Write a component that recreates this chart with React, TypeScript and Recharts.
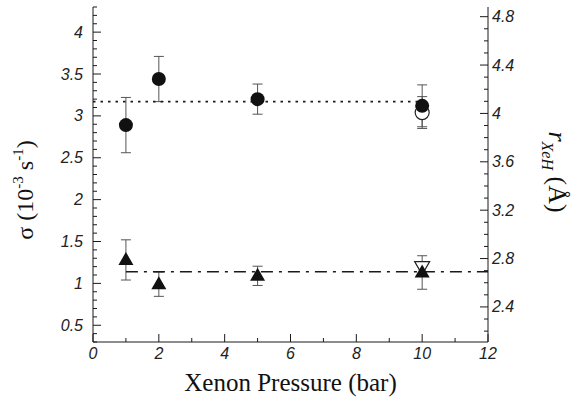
import React from 'react';
import { ComposedChart, Scatter, XAxis, YAxis, ErrorBar } from 'recharts';

// measured points (filled symbols)
const pressure = [1, 2, 5, 10];
const sigmaCircle = [2.89, 3.44, 3.2, 3.12];
const sigmaCircleErr = [0.33, 0.27, 0.18, 0.25];
const sigmaTriangle = [1.28, 0.99, 1.09, 1.13];
const sigmaTriangleErr = [0.24, 0.145, 0.115, 0.2];

// open symbols at 10 bar
const openPressure = [10];
const openCircle = [3.04];
const openCircleErr = [0.19];
const openTriangle = [1.2];

// fitted constant levels
const circleFitX = [0, 10];
const circleFit = 3.17;
const triangleFitX = [1, 12];
const triangleFit = 1.14;

// axis ticks
const xTickLabels = ['0', '2', '4', '6', '8', '10', '12'];
const sigmaTickLabels = ['0.5', '1', '1.5', '2', '2.5', '3', '3.5', '4'];
const rTickLabels = ['2.4', '2.8', '3.2', '3.6', '4', '4.4', '4.8'];

const steps = (from: number, to: number, step: number) => {
  const out: number[] = [];
  for (let v = from; v <= to + 1e-9; v += step) out.push(Math.round(v * 10) / 10);
  return out;
};

const xTicks = steps(0, 12, 1);
const sigmaTicks = steps(0.3, 4.3, 0.1);
const rTicks = steps(2.2, 4.8, 0.1);

const circleData = pressure.map((x, i) => ({ x, y: sigmaCircle[i], err: sigmaCircleErr[i] }));
const triangleData = pressure.map((x, i) => ({ x, y: sigmaTriangle[i], err: sigmaTriangleErr[i] }));
const openCircleData = openPressure.map((x, i) => ({ x, y: openCircle[i], err: openCircleErr[i] }));
const openTriangleData = openPressure.map((x, i) => ({ x, y: openTriangle[i] }));
const circleFitData = circleFitX.map((x) => ({ x, y: circleFit }));
const triangleFitData = triangleFitX.map((x) => ({ x, y: triangleFit }));

const tickStyle = { fontFamily: '"Liberation Sans", Arial, Helvetica, sans-serif', fontStyle: 'italic', fontSize: '16px' };
const serif = { fontFamily: '"Liberation Serif", "Times New Roman", Times, "DejaVu Serif", serif' };
const INK = '#1a1a1a';

const AxisTick = ({ x, y, payload, side, labels }: any) => {
  const v = payload.value;
  const label = String(v);
  const major = labels.includes(label);
  const len = major ? 8 : 4;
  if (side === 'left') {
    return (
      <g>
        <line x1={x} y1={y} x2={x + len} y2={y} stroke={INK} strokeWidth={1} />
        {major && <text x={x - 10} y={y + 5.5} textAnchor="end" fill="#222" style={tickStyle}>{label}</text>}
      </g>
    );
  }
  if (side === 'right') {
    return (
      <g>
        <line x1={x} y1={y} x2={x - len} y2={y} stroke={INK} strokeWidth={1} />
        {major && <text x={x + 4} y={y + 5.5} textAnchor="start" fill="#222" style={tickStyle}>{label}</text>}
      </g>
    );
  }
  if (side === 'bottom') {
    return (
      <g>
        <line x1={x} y1={y} x2={x} y2={y - len} stroke={INK} strokeWidth={1} />
        {major && <text x={x} y={y + 17} textAnchor="middle" fill="#222" style={tickStyle}>{label}</text>}
      </g>
    );
  }
  return <line x1={x} y1={y} x2={x} y2={y + len} stroke={INK} strokeWidth={1} />;
};

const FilledCircle = ({ cx, cy }: any) => <circle cx={cx} cy={cy} r={7} fill="#111" />;
const OpenCircle = ({ cx, cy }: any) => <circle cx={cx} cy={cy} r={7} fill="#fff" stroke="#222" strokeWidth={1.2} />;
const FilledTriangle = ({ cx, cy }: any) => (
  <polygon points={`${cx},${cy - 8} ${cx - 7.5},${cy + 5} ${cx + 7.5},${cy + 5}`} fill="#111" />
);
const OpenDownTriangle = ({ cx, cy }: any) => (
  <polygon points={`${cx},${cy + 8} ${cx - 7.5},${cy - 5} ${cx + 7.5},${cy - 5}`} fill="#fff" stroke="#222" strokeWidth={1.2} />
);
const NoMark = () => <g />;

export default function App() {
  return (
    <div style={{ position: 'absolute', left: 0, top: 0, width: 581, height: 399, background: '#fff' }}>
      <ComposedChart width={581} height={399} margin={{ top: 7, right: 0, bottom: 27, left: 0 }}>
        <XAxis
          xAxisId="b"
          dataKey="x"
          type="number"
          domain={[0, 12]}
          ticks={xTicks}
          interval={0}
          height={30}
          tickSize={0}
          tickMargin={0}
          tickLine={false}
          stroke={INK}
          tick={(p: any) => <AxisTick {...p} side="bottom" labels={xTickLabels} />}
        />
        <XAxis
          xAxisId="t"
          orientation="top"
          dataKey="x"
          type="number"
          domain={[0, 12]}
          ticks={xTicks}
          interval={0}
          height={0}
          tickSize={0}
          tickMargin={0}
          tickLine={false}
          stroke={INK}
          tick={(p: any) => <AxisTick {...p} side="top" labels={xTickLabels} />}
        />
        <YAxis
          yAxisId="l"
          dataKey="y"
          type="number"
          domain={[0.3, 4.3]}
          ticks={sigmaTicks}
          interval={0}
          width={93}
          tickSize={0}
          tickMargin={0}
          tickLine={false}
          stroke={INK}
          tick={(p: any) => <AxisTick {...p} side="left" labels={sigmaTickLabels} />}
        />
        <YAxis
          yAxisId="r"
          orientation="right"
          dataKey="y"
          type="number"
          domain={[2.11, 4.88]}
          allowDataOverflow
          ticks={rTicks}
          interval={0}
          width={93}
          tickSize={0}
          tickMargin={0}
          tickLine={false}
          stroke={INK}
          tick={(p: any) => <AxisTick {...p} side="right" labels={rTickLabels} />}
        />

        <Scatter
          data={circleFitData}
          xAxisId="b"
          yAxisId="l"
          shape={NoMark}
          line={{ stroke: INK, strokeWidth: 1.6, strokeDasharray: '2.5 5' }}
          fill={INK}
          isAnimationActive={false}
        />
        <Scatter
          data={triangleFitData}
          xAxisId="b"
          yAxisId="l"
          shape={NoMark}
          line={{ stroke: INK, strokeWidth: 1.5, strokeDasharray: '12 6 3 6' }}
          fill={INK}
          isAnimationActive={false}
        />

        <Scatter data={openCircleData} xAxisId="b" yAxisId="l" shape={OpenCircle} isAnimationActive={false}>
          <ErrorBar dataKey="err" direction="y" width={5} stroke="#555" strokeWidth={1} />
        </Scatter>
        <Scatter data={openTriangleData} xAxisId="b" yAxisId="l" shape={OpenDownTriangle} isAnimationActive={false} />
        <Scatter data={circleData} xAxisId="b" yAxisId="l" shape={FilledCircle} isAnimationActive={false}>
          <ErrorBar dataKey="err" direction="y" width={5} stroke="#555" strokeWidth={1} />
        </Scatter>
        <Scatter data={triangleData} xAxisId="b" yAxisId="l" shape={FilledTriangle} isAnimationActive={false}>
          <ErrorBar dataKey="err" direction="y" width={5} stroke="#555" strokeWidth={1} />
        </Scatter>
      </ComposedChart>

      <svg
        width={581}
        height={399}
        style={{ position: 'absolute', left: 0, top: 0, pointerEvents: 'none' }}
        fill="#111"
      >
        <text x={290.5} y={391} textAnchor="middle" style={{ ...serif, fontSize: '25px' }}>
          Xenon Pressure (bar)
        </text>
        <text transform="translate(33, 190) rotate(-90)" textAnchor="middle" style={{ ...serif, fontSize: '24px' }}>
          <tspan>σ   (10</tspan>
          <tspan style={{ fontSize: '15px' }} dy={-10}>-3</tspan>
          <tspan dy={10}> s</tspan>
          <tspan style={{ fontSize: '15px' }} dy={-10}>-1</tspan>
          <tspan dy={10}>)</tspan>
        </text>
        <text transform="translate(549, 172) rotate(90)" textAnchor="middle" style={{ ...serif, fontSize: '26px' }}>
          <tspan style={{ fontStyle: 'italic' }}>r</tspan>
          <tspan style={{ fontStyle: 'italic', fontSize: '16px' }} dy={7}>XeH</tspan>
          <tspan dy={-7}>   (Å)</tspan>
        </text>
      </svg>
    </div>
  );
}
